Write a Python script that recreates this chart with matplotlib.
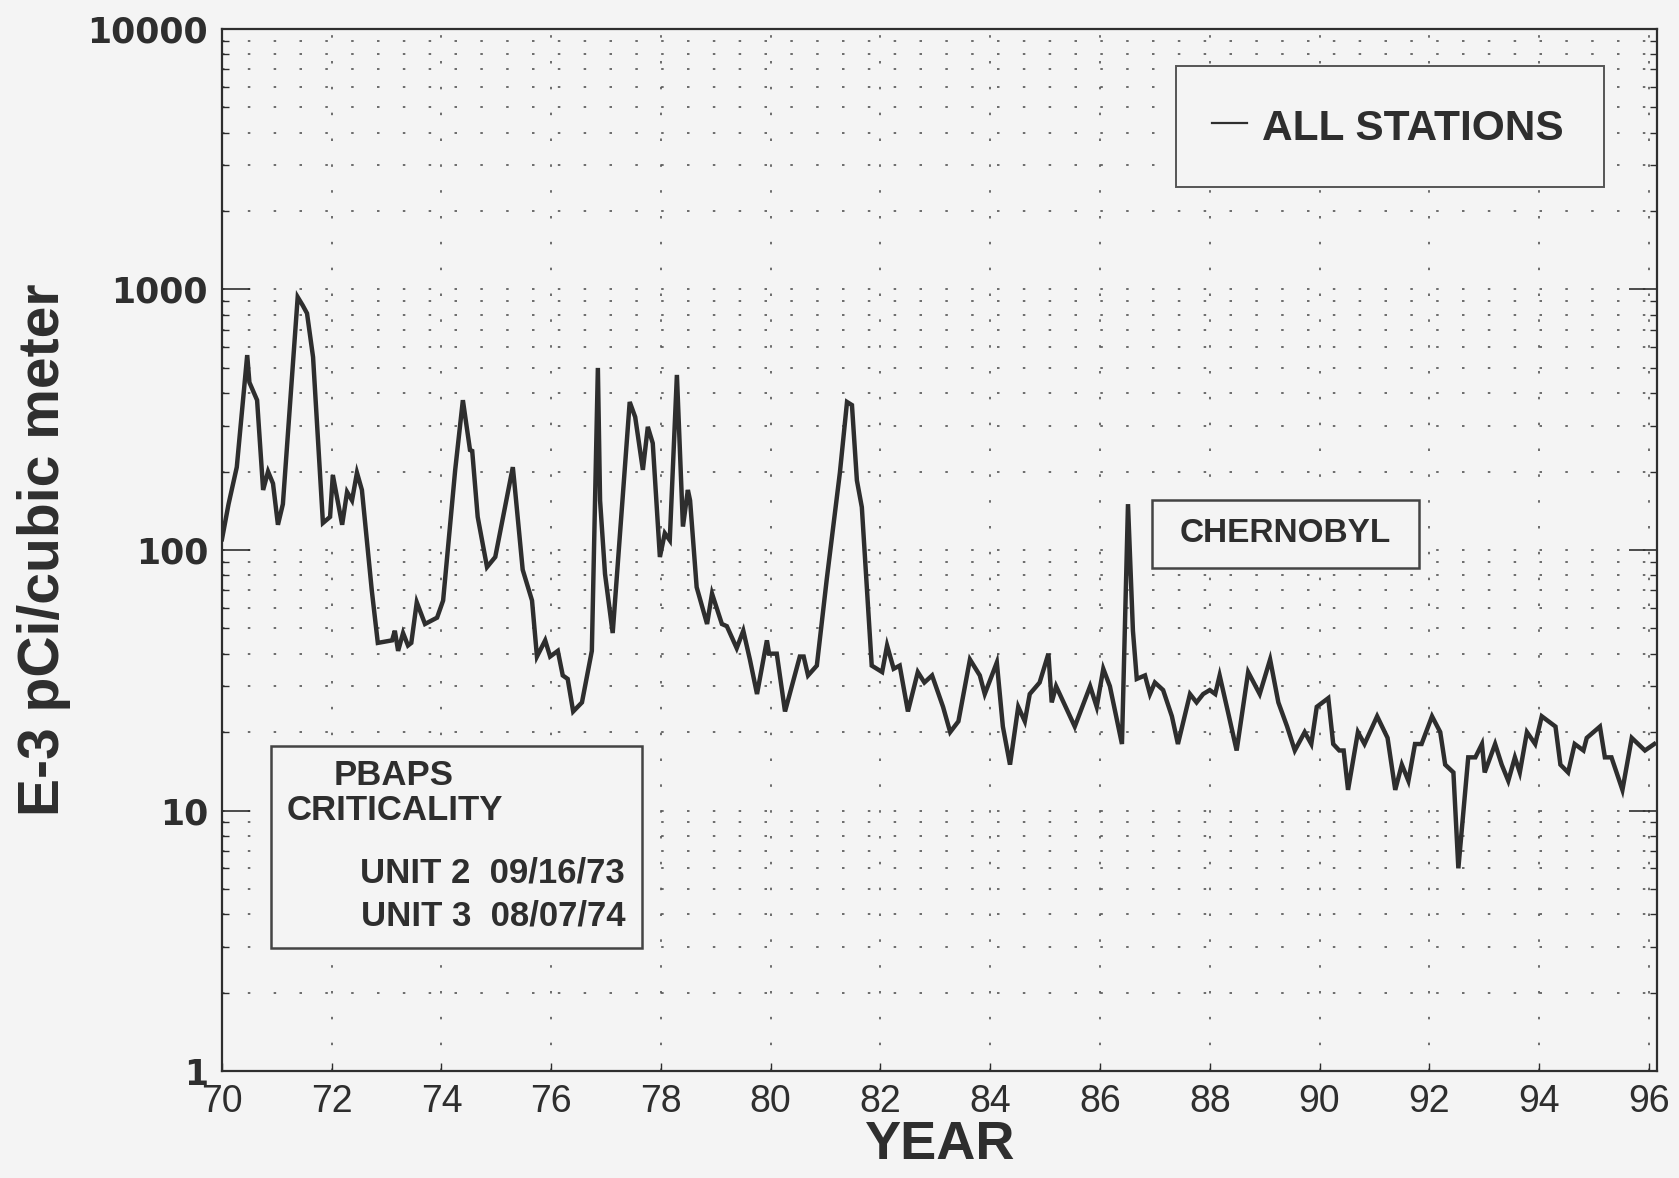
import numpy as np
import matplotlib
matplotlib.use("Agg")
import matplotlib.pyplot as plt
from matplotlib.patches import Rectangle
from matplotlib.ticker import LogLocator, FixedLocator, NullFormatter

# Dados (ano, concentração E-3 pCi/m3)
anos = [70.00, 70.12, 70.27, 70.46, 70.50, 70.64, 70.75, 70.84, 70.93, 71.02,
        71.11, 71.38, 71.47, 71.55, 71.66, 71.84, 71.97, 72.02, 72.19, 72.28,
        72.37, 72.46, 72.55, 72.73, 72.84, 73.10, 73.15, 73.21, 73.30, 73.39,
        73.45, 73.55, 73.70, 73.92, 74.03, 74.25, 74.39, 74.52, 74.56, 74.66,
        74.83, 74.98, 75.30, 75.33, 75.48, 75.65, 75.74, 75.89, 75.98, 76.12,
        76.21, 76.30, 76.40, 76.56, 76.74, 76.85, 76.89, 76.98, 77.12, 77.43,
        77.53, 77.67, 77.76, 77.85, 77.98, 78.07, 78.16, 78.29, 78.40, 78.49,
        78.53, 78.65, 78.84, 78.93, 79.11, 79.20, 79.38, 79.50, 79.62, 79.75,
        79.93, 79.97, 80.11, 80.26, 80.53, 80.60, 80.68, 80.84, 81.02, 81.26,
        81.39, 81.48, 81.57, 81.66, 81.84, 82.03, 82.12, 82.24, 82.35, 82.50,
        82.68, 82.80, 82.94, 83.14, 83.27, 83.42, 83.63, 83.81, 83.90, 84.12,
        84.23, 84.36, 84.51, 84.63, 84.72, 84.90, 85.06, 85.12, 85.20, 85.54,
        85.82, 85.94, 86.06, 86.18, 86.40, 86.51, 86.60, 86.67, 86.82, 86.91,
        87.00, 87.15, 87.31, 87.42, 87.64, 87.76, 87.88, 88.00, 88.10, 88.18,
        88.33, 88.49, 88.70, 88.91, 89.10, 89.25, 89.41, 89.55, 89.73, 89.85,
        89.95, 90.16, 90.25, 90.36, 90.44, 90.52, 90.70, 90.82, 91.05, 91.24,
        91.38, 91.50, 91.62, 91.74, 91.86, 92.05, 92.20, 92.29, 92.44, 92.53,
        92.71, 92.84, 92.96, 93.01, 93.20, 93.32, 93.44, 93.56, 93.65, 93.78,
        93.93, 94.05, 94.30, 94.39, 94.53, 94.65, 94.81, 94.87, 95.11, 95.20,
        95.32, 95.52, 95.69, 95.93, 96.10]
valores = [110, 150, 208, 560, 440, 376, 170, 200, 180, 125,
           150, 935, 870, 810, 550, 127, 134, 194, 125, 167,
           155, 198, 170, 70, 44, 45, 49, 41, 48, 43,
           44, 63, 52, 55, 64, 203, 376, 242, 240, 134,
           86, 94, 208, 180, 84, 64, 39, 45, 39, 41,
           33, 32, 24, 26, 41, 500, 155, 81, 48, 370,
           324, 203, 297, 257, 94, 116, 109, 470, 123, 170,
           155, 72, 52, 68, 52, 51, 42, 49, 38, 28,
           45, 40, 40, 24, 39, 39, 33, 36, 77, 198,
           370, 360, 185, 146, 36, 34, 43, 35, 36, 24,
           34, 31, 33, 25, 20, 22, 38, 33, 28, 37,
           21, 15, 25, 22, 28, 31, 40, 26, 30, 21,
           30, 25, 35, 30, 18, 150, 49, 32, 33, 28,
           31, 29, 23, 18, 28, 26, 28, 29, 28, 33,
           24, 17, 34, 28, 38, 26, 21, 17, 20, 18,
           25, 27, 18, 17, 17, 12, 20, 18, 23, 19,
           12, 15, 13, 18, 18, 23, 20, 15, 14, 6,
           16, 16, 18, 14, 18, 15, 13, 16, 14, 20,
           18, 23, 21, 15, 14, 18, 17, 19, 21, 16,
           16, 12, 19, 17, 18]

anos_ticks = list(range(70, 97, 2))
y_ticks = [1, 10, 100, 1000, 10000]
legenda = "ALL STATIONS"
nota_chernobyl = "CHERNOBYL"
nota_pbaps = ["PBAPS", "CRITICALITY", "UNIT 2  09/16/73", "UNIT 3  08/07/74"]

fundo = "#f4f4f4"
tinta = "#2e2e2e"
fonte = "Liberation Sans"

fig = plt.figure(figsize=(16.79, 11.78), dpi=100, facecolor=fundo)
ax = fig.add_axes([0.1322, 0.0908, 0.8547, 0.8846], facecolor=fundo)

# Série principal
ax.plot(anos, valores, color=tinta, linewidth=3.2, solid_joinstyle="miter")

ax.set_yscale("log")
ax.set_xlim(70, 96.15)
ax.set_ylim(1, 10000)

# Grade pontilhada
ax.yaxis.set_minor_locator(LogLocator(base=10, subs=np.arange(2, 10)))
ax.yaxis.set_minor_formatter(NullFormatter())
ax.xaxis.set_major_locator(FixedLocator(anos_ticks))
ax.grid(which="both", axis="y", color="#555555", linestyle=(0, (1.5, 14)), linewidth=1.2)
ax.grid(which="major", axis="x", color="#555555", linestyle=(0, (1.5, 14)), linewidth=1.2)

# Ticks e rótulos
ax.set_yticks(y_ticks)
ax.set_yticklabels([str(v) for v in y_ticks], fontfamily="DejaVu Sans",
                   fontweight="bold", fontsize=25, color=tinta)
ax.set_xticks(anos_ticks)
ax.set_xticklabels([str(a) for a in anos_ticks], fontfamily=fonte,
                   fontsize=27, color=tinta)
ax.tick_params(axis="y", which="major", direction="in", length=20, width=1.2,
               pad=10, right=True, color=tinta)
ax.tick_params(axis="y", which="minor", direction="in", length=5, width=1,
               right=True, color=tinta)
ax.tick_params(axis="x", which="major", direction="in", length=6, width=1,
               pad=9, color=tinta)
for s in ax.spines.values():
    s.set_color(tinta)
    s.set_linewidth(1.6)

ax.set_ylabel("E-3 pCi/cubic meter", fontfamily=fonte, fontweight="bold",
              fontsize=41, color=tinta, labelpad=12)
ax.set_xlabel("YEAR", fontfamily=fonte, fontweight="bold", fontsize=39,
              color=tinta, labelpad=0)

# Caixa da legenda
ax.add_patch(Rectangle((0.665, 0.848), 0.298, 0.1165, transform=ax.transAxes,
                       fill=True, facecolor=fundo, edgecolor="#555555", linewidth=1.4, zorder=3))
ax.plot([0.690, 0.714], [0.910, 0.910], transform=ax.transAxes, color=tinta,
        linewidth=1.6, zorder=4)
ax.text(0.7245, 0.904, legenda, transform=ax.transAxes, fontfamily=fonte,
        fontweight="bold", fontsize=30.5, color=tinta, va="center", ha="left", zorder=4)

# Caixa Chernobyl
ax.add_patch(Rectangle((0.648, 0.483), 0.186, 0.065, transform=ax.transAxes,
                       fill=True, facecolor=fundo, edgecolor="#444444", linewidth=1.8, zorder=3))
ax.text(0.741, 0.5155, nota_chernobyl, transform=ax.transAxes, fontfamily=fonte,
        fontweight="bold", fontsize=24, color=tinta, va="center", ha="center", zorder=4)

# Caixa PBAPS
ax.add_patch(Rectangle((0.034, 0.118), 0.259, 0.194, transform=ax.transAxes,
                       fill=True, facecolor=fundo, edgecolor="#444444", linewidth=1.8, zorder=3))
ax.text(0.1195, 0.284, nota_pbaps[0], transform=ax.transAxes, fontfamily=fonte,
        fontweight="bold", fontsize=25, color=tinta, va="center", ha="center", zorder=4)
ax.text(0.045, 0.250, nota_pbaps[1], transform=ax.transAxes, fontfamily=fonte,
        fontweight="bold", fontsize=25, color=tinta, va="center", ha="left", zorder=4)
ax.text(0.281, 0.190, nota_pbaps[2], transform=ax.transAxes, fontfamily=fonte,
        fontweight="bold", fontsize=25, color=tinta, va="center", ha="right", zorder=4)
ax.text(0.281, 0.149, nota_pbaps[3], transform=ax.transAxes, fontfamily=fonte,
        fontweight="bold", fontsize=25, color=tinta, va="center", ha="right", zorder=4)

fig.savefig("out.png", dpi=100, facecolor=fundo)
